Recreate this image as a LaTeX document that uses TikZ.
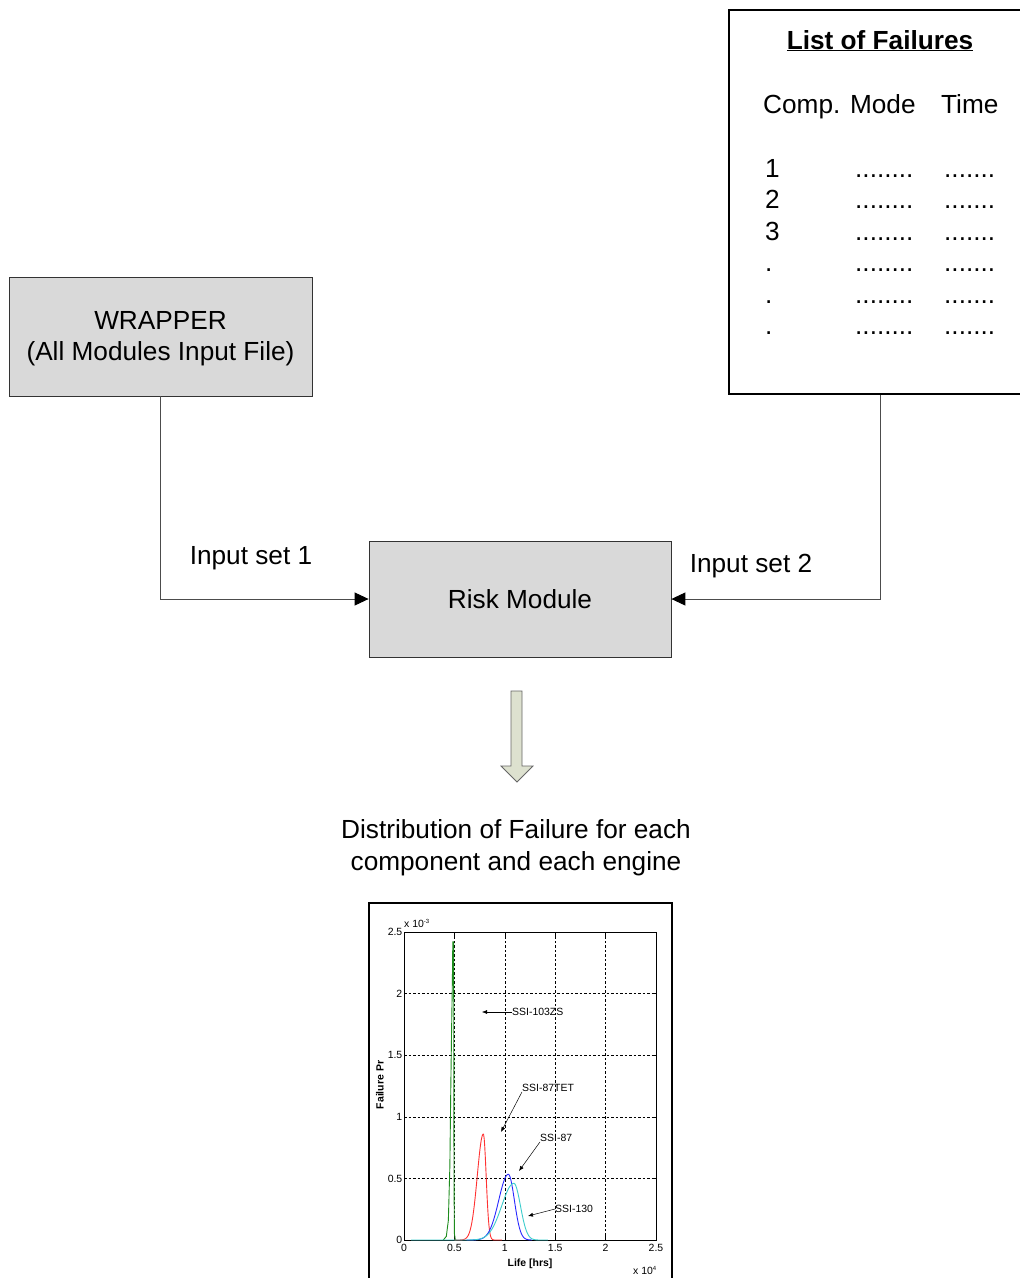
\documentclass[tikz,border=0pt]{standalone}
\usepackage{fontspec}
\setmainfont{Liberation Sans}
\usetikzlibrary{arrows.meta}

\definecolor{boxgray}{RGB}{217,217,217}
\definecolor{arrowfill}{RGB}{221,225,207}
\definecolor{curvegreen}{RGB}{30,140,30}
\definecolor{curvered}{RGB}{255,50,50}
\definecolor{curveblue}{RGB}{40,40,255}
\definecolor{curvecyan}{RGB}{60,205,205}

\begin{document}
\begin{tikzpicture}[x=1bp,y=-1bp,
  box/.style={draw=black!80, fill=boxgray, line width=0.8bp, inner sep=0pt,
    align=center, font=\fontsize{26.3}{31}\selectfont},
  link/.style={draw=black!70, line width=0.9bp,
    -{Triangle[length=14bp,width=13bp,color=black,fill=black]}},
  lbl/.style={font=\fontsize{26.3}{32}\selectfont, inner sep=0pt},
  tick/.style={font=\fontsize{10.5}{12}\selectfont, inner sep=1bp},
  gridline/.style={black, line width=0.5bp, dash pattern=on 2.5bp off 2bp},
  curve/.style={line width=0.9bp},
  note/.style={-{Latex[length=5bp,width=4bp]}, line width=0.5bp},
  declare function={skg(\t,\m,\h,\a,\b)=\h*exp(-min(((\t-\m)/((\t<\m)*\a+(\t>=\m)*\b))*((\t-\m)/((\t<\m)*\a+(\t>=\m)*\b))/2,9));}
]
\clip (0,0) rectangle (1020,1278);
\fill[white] (0,0) rectangle (1020,1278);

% --- input sources -------------------------------------------------------
\node[box, minimum width=303bp, minimum height=119bp] (wrapper) at (160.5,336.5)
  {\rule{0pt}{22bp}WRAPPER\\(All Modules Input File)};

\node[draw=black, line width=1.8bp, minimum width=304bp, minimum height=384bp,
  inner sep=0pt, anchor=north west] (fails) at (728,9) {};
\node[lbl, font=\fontsize{26.3}{30}\selectfont\bfseries, anchor=base] (title) at (880,49)
  {\underline{List of Failures}};
\node[lbl, anchor=base west] (hcm) at (763,113) {Comp. Mode};
\node[lbl, anchor=base west] (htime) at (941,113) {Time};
\foreach \n/\yy in {1/177,2/208.5,3/240,./271.5,./303,./334.5}{
  \node[lbl, anchor=base west] at (765,\yy) {\n};
  \node[lbl, anchor=base west] at (855,\yy) {........};
  \node[lbl, anchor=base west] at (944,\yy) {.......};
}

% --- risk module and its inputs ------------------------------------------
\node[box, minimum width=302bp, minimum height=116bp] (risk) at (520,599) {Risk Module};

\draw[link] (wrapper.south) |- (risk.west);
\draw[link] (fails.south) |- (risk.east);

\node[lbl] (in1) at (251,558) {Input set 1};
\node[lbl] (in2) at (751,566) {Input set 2};

% --- output --------------------------------------------------------------
\draw[fill=arrowfill, draw=black!60, line width=0.8bp]
  (511,691) -- (522,691) -- (522,766) -- (533,766) -- (517,782)
  -- (501,766) -- (511,766) -- cycle;

\node[lbl, align=center] (dist) at (516,848)
  {Distribution of Failure for each\\component and each engine};

% --- failure distribution plot -------------------------------------------
\draw[line width=1.8bp] (369,903) rectangle (672,1300);

\begin{scope}[shift={(404,1240)}, x=100.8bp, y=123.2bp]
  \foreach \u in {0.5,1,1.5,2} \draw[gridline] (\u,0) -- (\u,2.5);
  \foreach \v in {0.5,1,1.5,2} \draw[gridline] (0,\v) -- (2.5,\v);
  \draw[line width=0.6bp] (0,0) rectangle (2.5,2.5);
  \foreach \u in {0,0.5,1,1.5,2,2.5}{
    \draw[line width=0.5bp] (\u,0) -- (\u,0.03) (\u,2.5) -- (\u,2.47);
    \node[tick, anchor=north] at (\u,-0.025) {\u};
  }
  \foreach \v in {0,0.5,1,1.5,2,2.5}{
    \draw[line width=0.5bp] (0,\v) -- (0.03,\v) (2.5,\v) -- (2.47,\v);
    \node[tick, anchor=east] at (-0.005,\v) {\v};
  }

  % life distributions
  \draw[curvegreen, curve] (0.39,0) -- (0.42,0.03) -- (0.44,0.16) -- (0.455,0.6)
    -- (0.463,1.16) -- (0.472,1.7) -- (0.48,2.11) -- (0.484,2.42) -- (0.492,2.42)
    -- (0.494,1.5) -- (0.496,0.5) -- (0.5,0.05) -- (0.51,0) -- (0.52,0);
  \draw[curvered, curve] plot[domain=0.5:0.97, samples=90]
    (\x,{skg(\x,0.787,0.86,0.06,0.028)});
  \draw[curveblue, curve] plot[domain=0.62:1.27, samples=110]
    (\x,{skg(\x,1.035,0.533,0.095,0.06)});
  \draw[curvecyan, curve] plot[domain=0.07:1.43, samples=200]
    (\x,{skg(\x,1.09,0.46,0.12,0.065)});
\end{scope}

\node[tick, anchor=base west, inner sep=0pt] (yexp) at (404,927)
  {x 10\raisebox{0.6ex}{\fontsize{6}{6}\selectfont -3}};
\node[tick, anchor=base west, inner sep=0pt] (xexp) at (633,1274)
  {x 10\raisebox{0.6ex}{\fontsize{6}{6}\selectfont 4}};
\node[tick, font=\fontsize{10.5}{12}\selectfont\bfseries, rotate=90] (ylab) at (380,1085) {Failure Pr};
\node[tick, font=\fontsize{10.5}{12}\selectfont\bfseries] (xlab) at (530,1264) {Life [hrs]};

\node[tick, anchor=west, inner sep=0pt] (s103) at (512,1012) {SSI-103ZS};
\node[tick, anchor=west, inner sep=0pt] (s87t) at (522,1088) {SSI-87TET};
\node[tick, anchor=west, inner sep=0pt] (s87) at (540,1138) {SSI-87};
\node[tick, anchor=west, inner sep=0pt] (s130) at (555,1209) {SSI-130};
\coordinate (t103) at (482,1012);
\coordinate (t87t) at (501,1132);
\coordinate (t87) at (519,1171);
\coordinate (t130) at (528,1216);
\draw[note] (s103.west) -- (t103);
\draw[note] (s87t.south west) -- (t87t);
\draw[note] (s87.south west) -- (t87);
\draw[note] (s130.west) -- (t130);
\end{tikzpicture}
\end{document}
